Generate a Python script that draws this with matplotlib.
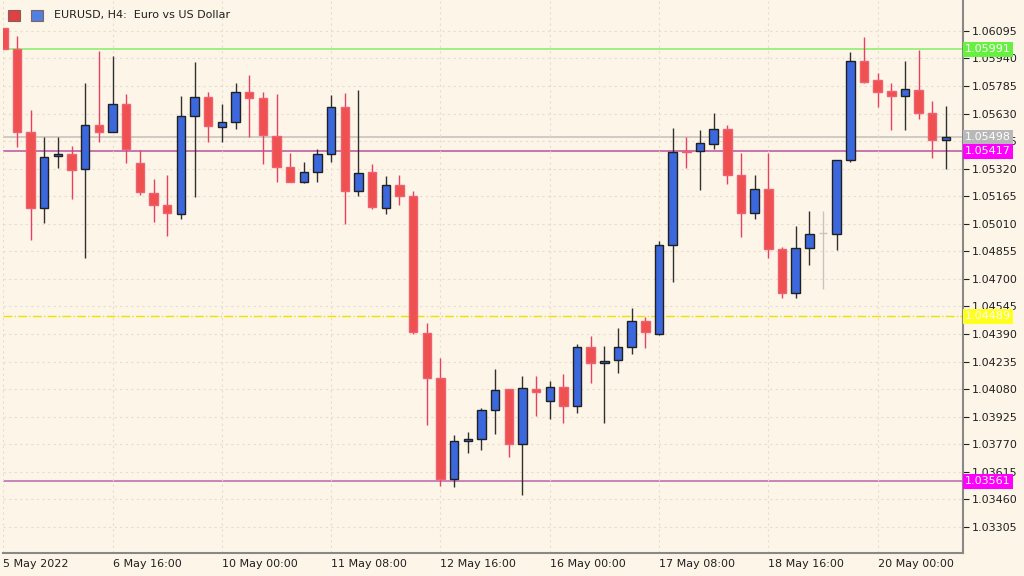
import matplotlib.pyplot as plt
import numpy as np

# OHLC, H4 EURUSD
opens = [1.06113, 1.05993, 1.05527, 1.05099, 1.05392, 1.05403, 1.05318, 1.05566, 1.05527, 1.05684,
         1.05352, 1.05183, 1.05116, 1.05065, 1.05617, 1.05723, 1.05555, 1.05583, 1.05752, 1.05718,
         1.05504, 1.05330, 1.05245, 1.05302, 1.05403, 1.05667, 1.05195, 1.05302, 1.05099, 1.05228,
         1.05167, 1.04396, 1.04143, 1.03575, 1.03788, 1.03800, 1.03963, 1.04081, 1.03772, 1.04081,
         1.04013, 1.04092, 1.03985, 1.04317, 1.04227, 1.04244, 1.04317, 1.04463, 1.04390, 1.04891,
         1.05420, 1.05420, 1.05459, 1.05543, 1.05285, 1.05071, 1.05206, 1.04868, 1.04621, 1.04874,
         1.04958, 1.04953, 1.05369, 1.05926, 1.05819, 1.05757, 1.05729, 1.05763, 1.05633, 1.05482]
highs = [1.06113, 1.06067, 1.05650, 1.05498, 1.05498, 1.05448, 1.05802, 1.05982, 1.05954, 1.05740,
         1.05425, 1.05262, 1.05285, 1.05729, 1.05920, 1.05752, 1.05684, 1.05802, 1.05847, 1.05752,
         1.05740, 1.05408, 1.05358, 1.05431, 1.05735, 1.05746, 1.05763, 1.05347, 1.05279, 1.05285,
         1.05195, 1.04452, 1.04255, 1.03822, 1.03839, 1.03974, 1.04193, 1.04081, 1.04154, 1.04154,
         1.04126, 1.04165, 1.04334, 1.04379, 1.04323, 1.04424, 1.04537, 1.04486, 1.04913, 1.05549,
         1.05498, 1.05538, 1.05633, 1.05566, 1.05408, 1.05285, 1.05408, 1.04880, 1.04998, 1.05082,
         1.05082, 1.05065, 1.05977, 1.06061, 1.05858, 1.05802, 1.05926, 1.05988, 1.05701, 1.05673]
lows = [1.05993, 1.05442, 1.04919, 1.05015, 1.05324, 1.05150, 1.04818, 1.05470, 1.05527, 1.05352,
        1.05172, 1.05020, 1.04942, 1.05037, 1.05161, 1.05470, 1.05470, 1.05543, 1.05498, 1.05347,
        1.05245, 1.05245, 1.05240, 1.05245, 1.05358, 1.05009, 1.05167, 1.05093, 1.05065, 1.05116,
        1.04390, 1.03878, 1.03535, 1.03530, 1.03721, 1.03738, 1.03828, 1.03698, 1.03485, 1.03929,
        1.03912, 1.03890, 1.03946, 1.04115, 1.03890, 1.04171, 1.04278, 1.04312, 1.04385, 1.04683,
        1.05324, 1.05200, 1.05431, 1.05234, 1.04936, 1.05037, 1.04818, 1.04593, 1.04593, 1.04778,
        1.04643, 1.04863, 1.05358, 1.05802, 1.05667, 1.05538, 1.05538, 1.05600, 1.05380, 1.05318]
closes = [1.05993, 1.05527, 1.05099, 1.05386, 1.05403, 1.05313, 1.05566, 1.05527, 1.05684, 1.05431,
          1.05189, 1.05116, 1.05071, 1.05617, 1.05723, 1.05560, 1.05583, 1.05752, 1.05718, 1.05510,
          1.05330, 1.05245, 1.05302, 1.05403, 1.05667, 1.05195, 1.05296, 1.05105, 1.05228, 1.05167,
          1.04402, 1.04143, 1.03575, 1.03788, 1.03800, 1.03963, 1.04075, 1.03772, 1.04087, 1.04064,
          1.04092, 1.03985, 1.04317, 1.04227, 1.04238, 1.04317, 1.04463, 1.04402, 1.04891, 1.05414,
          1.05414, 1.05465, 1.05543, 1.05285, 1.05071, 1.05206, 1.04868, 1.04621, 1.04874, 1.04953,
          1.04958, 1.05369, 1.05926, 1.05808, 1.05752, 1.05729, 1.05768, 1.05633, 1.05482, 1.05498]

levels = [1.05991, 1.05498, 1.05417, 1.04489, 1.03561]
level_colors = ['#66F040', '#B8B8B8', '#FF00FF', '#FFFF20', '#FF00FF']
level_styles = ['-', '-', '-', '-.', '-']
line_colors = ['#90EE70', '#C8C4BC', '#C060A0', '#F0E000', '#C070B0']

yticks = [1.06095, 1.05940, 1.05785, 1.05630, 1.05475, 1.05320, 1.05165, 1.05010, 1.04855,
          1.04700, 1.04545, 1.04390, 1.04235, 1.04080, 1.03925, 1.03770, 1.03615, 1.03460, 1.03305]
xtick_idx = [0, 8, 16, 24, 32, 40, 48, 56, 64]
xtick_labels = ['5 May 2022', '6 May 16:00', '10 May 00:00', '11 May 08:00', '12 May 16:00',
                '16 May 00:00', '17 May 08:00', '18 May 16:00', '20 May 00:00']

bg = '#FDF5E8'
bull = '#3C68DD'
bear = '#EF5050'

fig = plt.figure(figsize=(10.24, 5.76), dpi=100, facecolor=bg)
ax = fig.add_axes([3 / 1024, 23 / 576, 960 / 1024, 552 / 576], facecolor=bg)

w = 0.62
for i, (o, h, l, c) in enumerate(zip(opens, highs, lows, closes)):
    if c > o:
        ax.vlines(i, l, h, color='#303030', lw=1, zorder=2)
        ax.bar(i, c - o, w, o, color=bull, edgecolor='#202020', lw=1, zorder=3)
    elif c < o:
        ax.vlines(i, l, h, color='#E84060', lw=1, zorder=2)
        ax.bar(i, o - c, w, c, color=bear, edgecolor='#F06070', lw=1, zorder=3)
    else:
        ax.vlines(i, l, h, color='#C8C4BC', lw=1, zorder=2)
        ax.hlines(o, i - w / 2, i + w / 2, color='#C8C4BC', lw=1, zorder=3)

for lv, lc, ls, bc in zip(levels, line_colors, level_styles, level_colors):
    ax.axhline(lv, color=lc, ls=ls, lw=1.2 if ls == '-' else 1, zorder=1)
    ax.text(1.002, lv, f'{lv:.5f}', transform=ax.get_yaxis_transform(), ha='left', va='center',
            fontsize=8, color='white', clip_on=False, zorder=5,
            bbox=dict(boxstyle='square,pad=0.2', fc=bc, ec='none'))

ax.set_xlim(-0.02, 70.25)
ax.set_ylim(1.03158, 1.06263)
ax.yaxis.tick_right()
ax.set_yticks(yticks)
ax.set_yticklabels([f'{t:.5f}' for t in yticks], fontsize=8)
ax.set_xticks(xtick_idx)
ax.set_xticklabels(xtick_labels, fontsize=8, ha='left')
ax.tick_params(axis='both', length=4, colors='#202020', labelsize=8, pad=2)
ax.tick_params(axis='x', length=0, pad=4)
ax.grid(True, color='#E8DCCC', ls=(0, (2, 3)), lw=0.8)
for s in ['top', 'left']:
    ax.spines[s].set_visible(False)
ax.spines['right'].set_color('#888888')
ax.spines['bottom'].set_color('#888888')
ax.spines['right'].set_linewidth(1.5)
ax.spines['bottom'].set_linewidth(1.5)

fig.text(54 / 1024, 1 - 15 / 576, 'EURUSD, H4:  Euro vs US Dollar', fontsize=8, va='center', color='#202020')
fig.patches.append(plt.Rectangle((8 / 1024, 1 - 21 / 576), 12 / 1024, 11 / 576, transform=fig.transFigure,
                                 fc='#E04040', ec='#806060', lw=0.8))
fig.patches.append(plt.Rectangle((31 / 1024, 1 - 21 / 576), 12 / 1024, 11 / 576, transform=fig.transFigure,
                                 fc='#5080E0', ec='#806060', lw=0.8))

fig.savefig('out.png', dpi=100, facecolor=bg)
